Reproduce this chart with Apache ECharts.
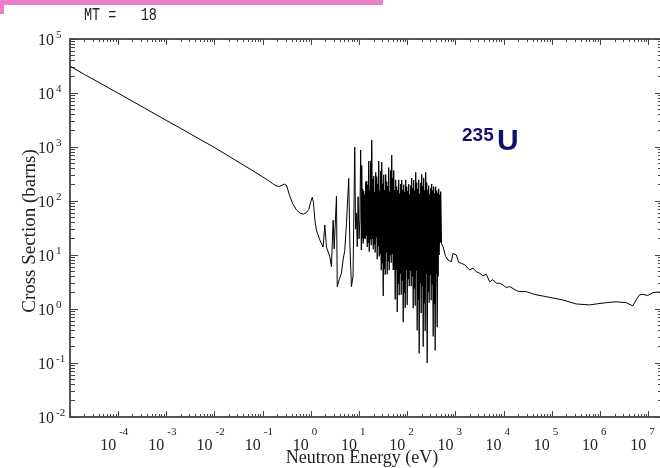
<!DOCTYPE html>
<html>
<head>
<meta charset="utf-8">
<title>MT 18 — 235U fission cross section</title>
<script src="https://cdn.jsdelivr.net/npm/echarts@6/dist/echarts.min.js"></script>
<style>
  html, body { margin: 0; padding: 0; background: #ffffff; }
  #chart { width: 660px; height: 468px; }
</style>
</head>
<body>
<div id="chart"></div>
<script>
// ---- Cross section data (energy in eV, sigma in barns) ----

// Thermal 1/v part, 0.29 eV and 1.14 eV resonances, first isolated resonances
const lowE = [1e-5, 2e-5, 5e-5, 1e-4, 2e-4, 5e-4, 1e-3, 2e-3, 5e-3, 0.01, 0.02, 0.0253, 0.04, 0.06, 0.08,
  0.1, 0.13, 0.16, 0.19, 0.22, 0.25, 0.28, 0.31, 0.36, 0.42, 0.5, 0.6, 0.7, 0.8, 0.9, 0.98, 1.06, 1.12,
  1.2, 1.29, 1.52, 1.78, 1.93, 2.09, 2.45, 2.65, 2.87, 3.02, 3.37, 3.5, 3.85, 4.27, 4.62, 5.0, 5.43,
  6.05, 6.4, 6.89, 7.43, 8.07, 8.4, 8.75, 9.1, 9.44, 9.9, 10.3, 10.7, 11.1];
const lowXS = [31500, 22000, 14000, 9900, 7000, 4400, 3100, 2200, 1380, 975, 670, 590, 460, 370, 315,
  278, 240, 210, 190, 186, 196, 205, 195, 125, 88, 68, 59, 57, 61, 70, 95, 117, 95,
  45, 29, 19, 14, 36, 14, 9.3, 6.1, 44, 13, 124, 2.6, 3.5, 4.6, 8.1, 12, 38.6,
  263, 15, 2.6, 4.0, 1000, 30, 59, 14.3, 120, 20, 45, 880, 12.4];

// Dense resolved resonance region (about 11 eV to 0.5 keV)
const resE = [11.27, 11.54, 11.82, 12.10, 12.40, 12.70, 13.00, 13.32, 13.64, 13.97,
  14.30, 14.65, 15.00, 15.37, 15.74, 16.12, 16.51, 16.90, 17.31, 17.73,
  18.16, 18.60, 19.05, 19.51, 19.98, 20.46, 20.95, 21.46, 21.98, 22.51,
  23.05, 23.61, 24.18, 24.76, 25.36, 25.97, 26.60, 27.24, 27.90, 28.58,
  29.27, 29.97, 30.69, 31.44, 32.20, 32.97, 33.77, 34.58, 35.42, 36.27,
  37.15, 38.05, 38.97, 39.91, 40.87, 41.86, 42.87, 43.90, 44.97, 46.05,
  47.16, 48.30, 49.47, 50.66, 51.88, 53.14, 54.42, 55.73, 57.08, 58.46,
  59.87, 61.31, 62.79, 64.31, 65.86, 67.45, 69.08, 70.74, 72.45, 74.20,
  75.99, 77.83, 79.70, 81.63, 83.60, 85.61, 87.70, 89.81, 91.98, 94.21,
  96.49, 98.81, 101.2, 103.6, 106.1, 108.7, 111.3, 114.0, 116.8, 119.6,
  122.5, 125.4, 128.5, 131.6, 134.8, 138.0, 141.4, 144.8, 148.3, 151.8,
  155.5, 159.3, 163.1, 167.1, 171.1, 175.2, 179.5, 183.8, 188.3, 192.8,
  197.4, 202.2, 207.1, 212.1, 217.2, 222.5, 227.8, 233.3, 238.9, 244.7,
  250.6, 256.6, 262.8, 269.2, 275.6, 282.3, 289.1, 296.1, 303.3, 310.6,
  318.1, 325.8, 333.6, 341.7, 349.9, 358.4, 367.1, 375.9, 385.0, 394.3,
  403.8, 413.6, 423.6, 433.8, 444.3, 455.0, 466.1, 477.3, 488.9];
const resXS = [460, 20.2, 168, 16.3, 153, 20.5, 131, 19.5, 230, 22.8,
  235, 14.0, 200, 16.6, 550, 11.5, 158, 19.4, 555, 15.1,
  1350, 19.8, 255, 12.7, 290, 15.7, 147, 11.1, 340, 21,
  283, 8.3, 207, 14.4, 550, 9.4, 155, 10.3, 360, 5.2,
  525, 7.0, 210, 1.75, 305, 5.5, 160, 4.3, 312, 11.1,
  230, 4.4, 190, 7.6, 415, 5.2, 150, 9.9, 370, 7.2,
  710, 10.5, 263, 5.3, 372, 5.3, 160, 1.5, 248, 5.25,
  185, 0.88, 160, 2.9, 248, 1.8, 138, 4.5, 207, 1.83,
  245, 3.3, 161, 0.57, 202, 2.0, 148, 1.04, 248, 5.3,
  185, 1.19, 155, 3.55, 207, 2.65, 134, 5.1, 196, 2.65,
  266, 4.0, 172, 1.03, 245, 2.4, 157, 1.15, 340, 5.1,
  220, 0.40, 168, 1.5, 248, 0.15, 137, 3.0, 217, 0.84,
  314, 2.65, 189, 0.2, 269, 1.28, 158, 0.39, 340, 4.55,
  220, 0.10, 160, 2.05, 193, 1.3, 132, 4.25, 172, 1.46,
  206, 2.85, 158, 0.31, 185, 1.23, 139, 0.17, 184, 4.5,
  156, 0.46, 142, 4.0, 168, 10, 132, 17, 150];

// Unresolved and fast region up to 20 MeV
const fastE = [506, 546, 621, 692, 814, 879, 1035, 1154, 1312, 1538, 1950, 2286, 2690, 3140, 3680,
  4320, 5070, 5930, 6980, 8170, 9560, 11200, 13200, 15400, 18100, 21200, 29200, 43300, 75800,
  1.67e5, 3.17e5, 5.98e5, 8.24e5, 1.33e6, 2.14e6, 3.45e6, 4.73e6, 5.56e6, 6.5e6, 7.62e6, 9.67e6,
  1.23e7, 1.56e7, 2e7];
const fastXS = [16.5, 14.3, 9.3, 8.1, 7.5, 10.7, 10.0, 7.3, 7.0, 6.6, 5.3, 5.7, 4.9, 4.6, 4.1,
  4.4, 3.2, 3.5, 3.0, 3.0, 2.8, 2.5, 2.6, 2.4, 2.2, 2.1, 2.1, 1.86, 1.69,
  1.47, 1.24, 1.19, 1.24, 1.31, 1.36, 1.31, 1.14, 1.47, 1.83, 1.87, 1.78,
  2.01, 2.06, 2.0];

// Axis ranges and decade tick exponents
const X_MIN = 1e-5, X_MAX = 2e7;
const Y_MIN = 1e-2, Y_MAX = 1e5;
const xDecades = [-5, -4, -3, -2, -1, 0, 1, 2, 3, 4, 5, 6, 7];
const xLabelDecades = [-4, -3, -2, -1, 0, 1, 2, 3, 4, 5, 6, 7];
const yDecades = [-2, -1, 0, 1, 2, 3, 4, 5];

// ---- Build series data ----
function pairs(es, ss) { return es.map((e, i) => [e, ss[i]]); }
const lowPart = pairs(lowE, lowXS);
const fastPart = pairs(fastE, fastXS);
// the dense block is joined to its neighbours so the curve stays continuous
const resPart = [lowPart[lowPart.length - 1]].concat(pairs(resE, resXS), [fastPart[0]]);

const LX0 = Math.log10(X_MIN), LX1 = Math.log10(X_MAX);
const LY0 = Math.log10(Y_MIN), LY1 = Math.log10(Y_MAX);

// Minor tick positions (2..9 x 10^n) expressed in decades
function minorDecades(lo, hi) {
  const out = [];
  for (let n = Math.floor(lo); n < hi; n++) {
    for (let k = 2; k <= 9; k++) {
      const v = n + Math.log10(k);
      if (v > lo && v < hi - 1e-9) out.push(v);
    }
  }
  return out;
}
const xMinor = minorDecades(LX0, LX1);
const yMinor = minorDecades(LY0, LY1);

const AXIS_COLOR = '#555555';
const TICK_COLOR = '#444444';
const TEXT_COLOR = '#222222';
const SERIF = '"Liberation Serif", "Times New Roman", serif';

function expText(v) {
  const e = Math.round(v);
  return e < 0 ? '-' + (-e) : String(e);
}

function decoAxis(position, lo, hi, ticks, len, withLine, label) {
  return {
    type: 'value',
    position: position,
    min: lo,
    max: hi,
    splitLine: { show: false },
    axisLine: { show: withLine, onZero: false, lineStyle: { color: AXIS_COLOR, width: 2 } },
    axisTick: { show: true, inside: true, length: len, customValues: ticks,
      lineStyle: { color: TICK_COLOR, width: 1 } },
    axisLabel: label || { show: false },
    silent: true
  };
}

const baseRich = { fontFamily: SERIF, fontSize: 16, verticalAlign: 'bottom', color: TEXT_COLOR };
const expRich = { fontFamily: SERIF, fontSize: 11, verticalAlign: 'top', color: TEXT_COLOR };

const xLabel = {
  show: true,
  customValues: xLabelDecades,
  margin: 10,
  formatter: v => {
    const t = expText(v);
    return '{b|10}{' + (t.length > 1 ? 'e2' : 'e1') + '|' + t + '}';
  },
  rich: {
    b: baseRich,
    e1: Object.assign({ padding: [0, 12, 16, 3] }, expRich),
    e2: Object.assign({ padding: [0, 8, 16, 3] }, expRich)
  }
};

const yLabel = {
  show: true,
  customValues: yDecades,
  margin: 32,
  align: 'left',
  formatter: v => '{b|10}{e|' + expText(v) + '}',
  rich: {
    b: baseRich,
    e: Object.assign({ padding: [0, 0, 8, 2] }, expRich)
  }
};

const chart = echarts.init(document.getElementById('chart'), null, { renderer: 'canvas' });

function curveSeries(data, width) {
  return {
    type: 'line',
    xAxisIndex: 0,
    yAxisIndex: 0,
    data: data,
    symbol: 'none',
    showSymbol: false,
    silent: true,
    clip: true,
    lineStyle: { color: '#000000', width: width }
  };
}

chart.setOption({
  animation: false,
  backgroundColor: '#ffffff',
  grid: { left: 70, top: 39, width: 593, height: 378, containLabel: false, outerBoundsMode: 'none' },
  xAxis: [
    { type: 'log', logBase: 10, min: X_MIN, max: X_MAX, show: false },
    decoAxis('bottom', LX0, LX1, xDecades, 6, true, xLabel),
    decoAxis('bottom', LX0, LX1, xMinor, 3, false),
    decoAxis('top', LX0, LX1, xDecades, 6, true),
    decoAxis('top', LX0, LX1, xMinor, 3, false)
  ],
  yAxis: [
    { type: 'log', logBase: 10, min: Y_MIN, max: Y_MAX, show: false },
    decoAxis('left', LY0, LY1, yDecades, 8, true, yLabel),
    decoAxis('left', LY0, LY1, yMinor, 5, false),
    decoAxis('right', LY0, LY1, yDecades, 8, true),
    decoAxis('right', LY0, LY1, yMinor, 5, false)
  ],
  series: [
    curveSeries(lowPart, 1),
    curveSeries(resPart, 1.3),
    curveSeries(fastPart, 1)
  ],
  graphic: [
    { type: 'rect', shape: { x: 0, y: 0, width: 383, height: 5 }, style: { fill: '#ea80c8' }, silent: true },
    { type: 'rect', shape: { x: 0, y: 5, width: 4, height: 9 }, style: { fill: '#ea80c8' }, silent: true },
    { type: 'text', x: 84, y: 15, scaleX: 0.75, silent: true,
      style: { text: 'MT =   18', font: '18px "Liberation Mono", monospace', fill: TEXT_COLOR,
        verticalAlign: 'middle', align: 'left' } },
    { type: 'text', x: 362, y: 458, silent: true,
      style: { text: 'Neutron Energy (eV)', font: '18px ' + SERIF, fill: TEXT_COLOR,
        align: 'center', verticalAlign: 'middle' } },
    { type: 'text', x: 30, y: 231, rotation: Math.PI / 2, silent: true,
      style: { text: 'Cross Section (barns)', font: '19px ' + SERIF, fill: TEXT_COLOR,
        align: 'center', verticalAlign: 'middle' } },
    { type: 'text', x: 462, y: 136, silent: true,
      style: { text: '235', font: 'bold 19px "Liberation Sans", Arial, sans-serif', fill: '#10106e',
        align: 'left', verticalAlign: 'middle' } },
    { type: 'text', x: 497, y: 141.5, silent: true,
      style: { text: 'U', font: 'bold 30px "Liberation Sans", Arial, sans-serif', fill: '#10106e',
        align: 'left', verticalAlign: 'middle' } }
  ]
});
</script>
</body>
</html>
